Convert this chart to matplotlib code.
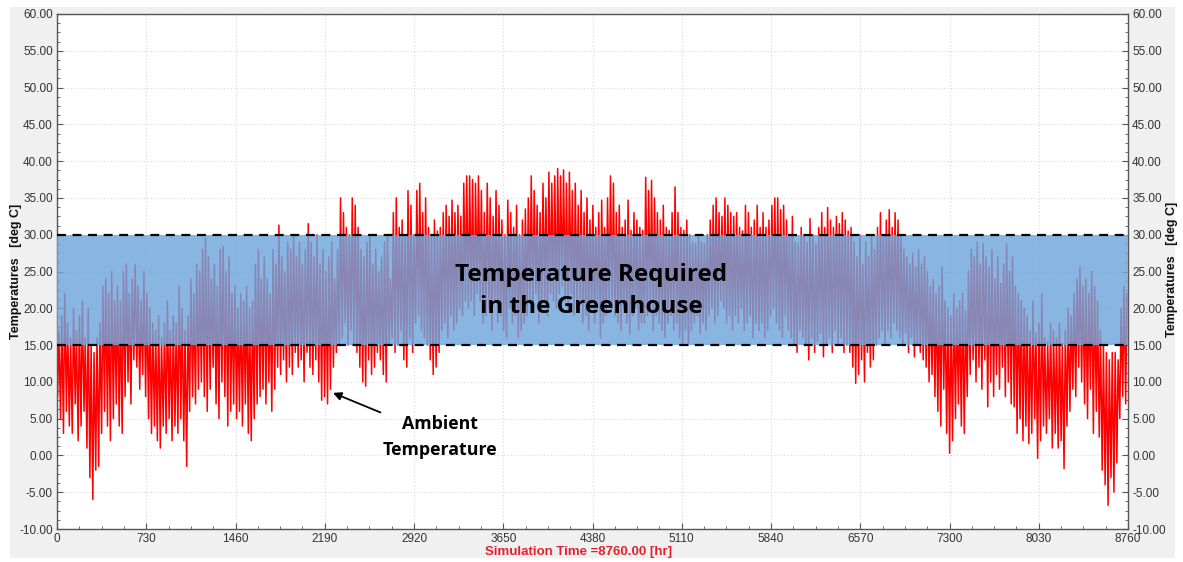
import matplotlib
matplotlib.use("Agg")
import matplotlib.pyplot as plt
from matplotlib.ticker import MultipleLocator, FormatStrFormatter
from matplotlib.patches import Rectangle
import numpy as np

# ---- data (daily envelope, deg C) ----
daily_high = [
    17, 19, 22, 18, 16, 20, 17, 19, 21, 16,
    20, 15, 14, 16, 18, 23, 24, 22, 25, 21,
    23, 21, 25, 26, 22, 24, 26, 23, 21, 25,
    22, 20, 18, 17, 19, 16, 18, 21, 17, 19,
    18, 23, 20, 17, 19, 24, 22, 26, 25, 28,
    29.5, 27, 24, 26, 23, 28, 28.4, 25, 27, 22,
    23, 20, 22, 21, 23, 20, 21, 26, 28, 24,
    27, 24, 22, 28, 26, 31.3, 27, 25, 29, 28,
    30, 27, 29, 26, 28, 31.5, 29, 27, 30, 26,
    28, 25, 27, 29, 24, 28, 35, 33, 31, 30,
    35, 34, 31, 28, 27, 29, 30, 26, 28, 25,
    27, 29, 30, 24, 33, 35, 31, 32, 30, 36,
    34, 30, 36, 37, 33, 35, 31, 30, 32, 30.5,
    31, 33, 34, 32.5, 34.7, 33, 34, 32.5, 37, 38,
    38, 37.5, 37, 38, 36, 33, 37, 35, 32.5, 36,
    34, 32, 30, 34.7, 33, 31, 34, 30, 32, 33.5,
    35, 38, 36, 34, 33, 37, 35, 38.5, 37, 38,
    39, 38, 38.8, 37, 38.5, 36, 37, 34, 36, 33,
    35, 32, 34, 31, 33, 34.7, 31, 35, 38, 37,
    33, 34, 31, 32, 34.7, 30.6, 33, 32, 31, 30.6,
    37.8, 36, 37.4, 35, 33, 32, 34, 31, 30.6, 33,
    36.5, 33, 31, 30.6, 32, 30, 29, 28.8, 30, 29,
    28.8, 30, 32, 34, 35, 33, 32.5, 35, 34, 33,
    32.5, 33, 31, 30.5, 34, 33, 31, 32, 34, 31,
    33, 31, 32, 34, 35, 35, 33.4, 34, 32, 30,
    32.5, 29, 28.8, 31, 30, 29, 32.2, 30, 28.8, 31,
    33, 31, 33.7, 32, 31, 32.5, 31.5, 33, 32, 30.5,
    31, 29, 27, 30, 26, 29, 27, 30, 28, 31,
    33, 30, 32, 33.4, 31, 33, 32, 30, 28, 27,
    26, 27.5, 25.6, 28, 26, 27, 25, 23, 24, 22,
    23, 25.6, 21, 20, 19, 22, 20, 21, 22, 19.7,
    25, 28, 27, 29, 26, 28.8, 27, 25.6, 28, 24,
    27, 23.4, 26, 28.8, 25, 27, 23, 22, 21, 20,
    19, 17, 21, 16.6, 18, 22, 16, 15.5, 18, 17,
    16, 18, 15.2, 17, 20, 19, 22, 24, 25.6, 23,
    24, 22, 25, 23, 21, 17, 15, 14, 13, 14,
    14, 13, 20, 23, 22,
]
daily_low = [
    8, 5, 3, 6, 4, 3, 7, 2, 4, 6,
    1, -3, -6, -2, -1.5, 3, 6, 4, 2, 5,
    7, 4, 3, 8, 10, 7, 13, 12, 9, 11,
    8, 5, 3, 4, 2, 1, 4, 3, 5, 2,
    4, 3, 5, 2, -1.5, 6, 8, 7, 9, 10,
    8, 6, 9, 12, 7, 5, 10, 8, 4, 6,
    7, 5, 6, 4, 7, 3, 2, 5, 7, 8,
    9, 7, 10, 6, 9, 12, 11, 13, 10, 12,
    11, 14, 12, 13, 10, 14, 12, 11, 13, 10,
    7.5, 8, 7, 9, 12, 14, 15, 16, 18, 15,
    17, 15, 14, 12, 10, 9.4, 13, 11, 12, 14,
    13, 11, 10, 15, 16, 14, 15, 17, 13, 12,
    16, 14, 18, 19, 17, 16, 15, 13, 11, 12,
    14, 17, 18, 16, 19, 17, 18, 20, 19, 21,
    20, 21, 19, 22, 21, 18, 19, 20, 17, 21,
    18, 19, 17, 16, 20, 18, 19, 16, 17, 18,
    19, 21, 20, 22, 18, 20, 21, 19, 22, 21,
    20, 22, 23, 21, 20, 22, 19, 20, 21, 18,
    19, 17, 20, 18, 21, 16, 18, 19, 21, 20,
    19, 18, 17, 20, 18, 16.5, 19, 20, 17, 18,
    18, 19, 20, 17, 19, 18, 17, 16, 18, 19,
    17, 18, 16, 15, 17, 15, 17, 18, 19, 16.5,
    18, 17, 19, 20, 18, 19, 21, 20, 18, 19,
    17, 19, 18, 20, 17, 18, 19, 16, 18, 17,
    18, 16, 17, 19, 20, 18, 17, 16, 19, 17,
    16, 15, 14, 17, 16, 15, 13, 16, 14, 15.5,
    16.6, 13.4, 15, 16, 14, 17, 15, 16, 14, 15,
    14, 12, 9.8, 11, 13, 10, 14, 12, 13, 15,
    16, 17, 15, 17, 16, 18, 17, 16, 15, 16.6,
    14, 16, 13.4, 15, 14, 13, 12, 10, 11, 8,
    6, 4, 9, 3, 0.3, 2, 5, 7, 4, 3,
    8, 11, 13, 10, 12, 9, 13, 6.6, 10, 8,
    11, 9, 12, 8, 10, 7, 6.6, 3, 5, 2,
    4, 1.6, 3, 5, -0.4, 2, 4, 3, 5, 1,
    3, 1, 2, -1.8, 4, 6, 9, 8, 12, 10,
    7, 5, 9, 3, 6, 2.5, -2, -4, -6.8, -3,
    -5, -1, 5, 8, 7,
]
band_low, band_high = 15, 30
x_ticks = [0, 730, 1460, 2190, 2920, 3650, 4380, 5110, 5840, 6570, 7300, 8030, 8760]

# build the trace: low in early morning, high in afternoon of each day
hours, temps = [], []
for d, (lo, hi) in enumerate(zip(daily_low, daily_high)):
    hours += [d * 24 + 5, d * 24 + 15]
    temps += [lo, hi]

plt.rcParams['font.family'] = ['Liberation Sans', 'DejaVu Sans']

W, H = 1183, 562
fig = plt.figure(figsize=(W / 100, H / 100), dpi=100)
fig.patch.set_facecolor('white')
bg = Rectangle((10 / W, 4 / H), 1165 / W, 551 / H, transform=fig.transFigure,
               facecolor='#f0f0f0', edgecolor='none', zorder=-10)
fig.add_artist(bg)

ax = fig.add_axes([57 / W, 1 - 529 / H, (1128 - 57) / W, (529 - 14) / H])
ax.set_zorder(5)
ax.set_facecolor('white')

ax.plot(hours, temps, color='#ff0000', lw=1.1, zorder=2)
ax.axhspan(band_low, band_high, facecolor='#6fa5dc', alpha=0.82, edgecolor='none', zorder=3)
ax.axhline(band_high, color='black', lw=1.6, ls=(0, (4, 3)), zorder=4)
ax.axhline(band_low, color='black', lw=1.6, ls=(0, (4, 3)), zorder=4)

ax.set_xlim(0, 8760)
ax.set_ylim(-10, 60)
ax.set_xticks(x_ticks)
ax.xaxis.set_minor_locator(MultipleLocator(182.5))
ax.yaxis.set_major_locator(MultipleLocator(5))
ax.yaxis.set_minor_locator(MultipleLocator(1.25))
ax.yaxis.set_major_formatter(FormatStrFormatter('%.2f'))
ax.grid(True, which='major', color='#d8d8d8', ls=(0, (1, 2)), lw=0.8)
ax.set_axisbelow(True)
for s in ax.spines.values():
    s.set_color('#555555')
    s.set_linewidth(1.0)

ax.tick_params(axis='both', which='both', direction='in', colors='#555555',
               labelcolor='#333333', labelsize=8.5)
ax.tick_params(axis='both', which='major', length=4)
ax.tick_params(axis='both', which='minor', length=2)
ax.tick_params(axis='y', which='both', right=True, labelright=True, pad=3)
ax.tick_params(axis='x', pad=3)

fig.text(16 / W, 1 - 271 / H, 'Temperatures   [deg C]', rotation=90, fontsize=9,
         fontweight='bold', ha='center', va='center', color='#111111')
fig.text(1172 / W, 1 - 269 / H, 'Temperatures   [deg C]', rotation=90, fontsize=9,
         fontweight='bold', ha='center', va='center', color='#111111')
fig.text(579 / W, 1 - 552 / H, 'Simulation Time =8760.00 [hr]', fontsize=9.5,
         fontweight='bold', ha='center', va='center', color='#e5202e')

ax.text(4368, 22.3, 'Temperature Required\nin the Greenhouse', fontsize=17.5,
        fontweight='bold', ha='center', va='center', linespacing=1.45,
        family=['Open Sans', 'DejaVu Sans'], color='black', zorder=5)

ax.annotate('Ambient\nTemperature', xy=(2257, 8.5), xytext=(3135, 2.5),
            fontsize=12.8, fontweight='bold', ha='center', va='center', linespacing=1.55,
            family=['Open Sans', 'DejaVu Sans'],
            arrowprops=dict(arrowstyle='-|>', color='black', lw=1.3, mutation_scale=12,
                            shrinkA=0, shrinkB=0,
                            connectionstyle='arc3'), zorder=5)

fig.savefig('out.png', dpi=100)
